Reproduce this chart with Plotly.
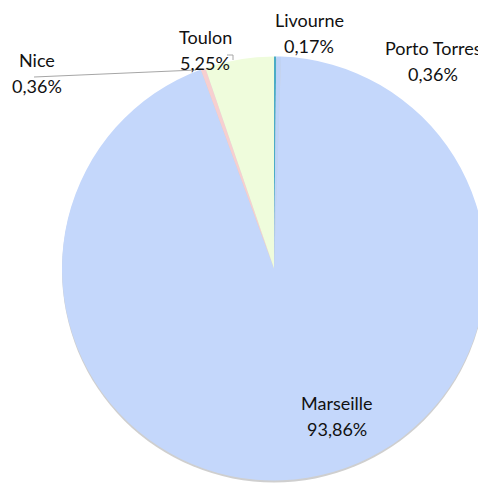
import plotly.graph_objects as go

ports = ["Livourne", "Porto Torres", "Marseille", "Nice", "Toulon"]
shares = [0.17, 0.36, 93.86, 0.36, 5.25]
share_labels = ["0,17%", "0,36%", "93,86%", "0,36%", "5,25%"]
colors = ["#4bacc6", "#bdd3f8", "#c4d7fb", "#f7cfd0", "#effcdc"]

# the page body adds an 8px margin, so the figure is drawn 8px in from the corner
OFF = 8
W = H = 486 - OFF
cx, cy, r = 274 - OFF, 268.5 - OFF, 212


def px_domain(x0, y0, rad):
    return dict(x=[max(0, (x0 - rad) / W), min(1, (x0 + rad) / W)],
                y=[max(0, 1 - (y0 + rad) / H), min(1, 1 - (y0 - rad) / H)])


fig = go.Figure()
# soft shadow under the pie
fig.add_trace(go.Pie(
    values=[1], labels=[""], sort=False, textinfo="none", hoverinfo="skip",
    marker=dict(colors=["#cfcfcf"], line=dict(width=0)), showlegend=False,
    domain=px_domain(cx, cy + 2, r),
))
fig.add_trace(go.Pie(
    labels=ports, values=shares, sort=False, direction="clockwise", rotation=0,
    marker=dict(colors=colors, line=dict(width=0)),
    textinfo="none", hoverinfo="label+percent", showlegend=False,
    domain=px_domain(cx, cy, r),
))

# label positions (pixels in the reference, centre of text block)
label_pos = {
    "Livourne": (309, 33),
    "Porto Torres": (433, 61),
    "Marseille": (337, 416),
    "Nice": (37, 73),
    "Toulon": (205, 50),
}
for name, pct in zip(ports, share_labels):
    x, y = label_pos[name]
    for k, txt in enumerate([name, pct]):
        fig.add_annotation(
            x=(x - OFF) / W, y=1 - (y - OFF - 13 + 26 * k) / H, xref="paper", yref="paper",
            text=txt, showarrow=False, xanchor="center", yanchor="middle",
            font=dict(family="Lato, Carlito, sans-serif", size=18, color="#111111"),
        )

# leader lines
fig.add_shape(type="line", xref="paper", yref="paper",
              x0=(34 - OFF) / W, y0=1 - (77 - OFF) / H,
              x1=(196 - OFF) / W, y1=1 - (70 - OFF) / H,
              line=dict(color="#a6a6a6", width=1.2))
fig.add_shape(type="path", xref="paper", yref="paper",
              path=(f"M {(227-OFF)/W},{1-(55-OFF)/H} L {(233-OFF)/W},{1-(55-OFF)/H} "
                    f"L {(233-OFF)/W},{1-(60-OFF)/H}"),
              line=dict(color="#a6a6a6", width=1))

fig.update_layout(
    width=W, height=H, margin=dict(l=0, r=0, t=0, b=0),
    paper_bgcolor="white", plot_bgcolor="white",
)
fig.write_html("out.html")
